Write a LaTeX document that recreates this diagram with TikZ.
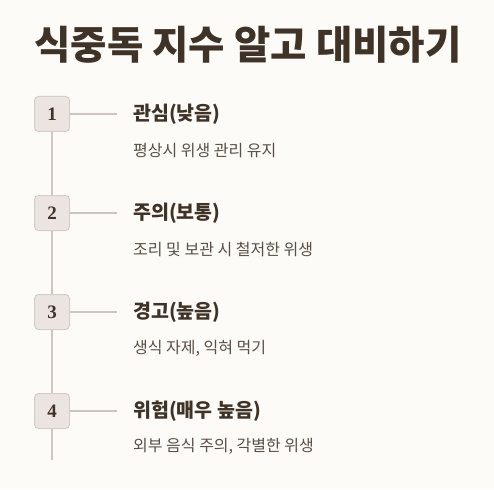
\documentclass[tikz,border=0pt]{standalone}
\usepackage{fontspec}
\setmainfont{Noto Sans CJK KR}
\newfontfamily\numfont{Liberation Serif}
\usepackage{xcolor}
\usepackage{tikz}
\usetikzlibrary{positioning}

\definecolor{pagebg}{HTML}{FDFBF8}
\definecolor{ink}{HTML}{3F3227}
\definecolor{soft}{HTML}{5A4E46}
\definecolor{boxfill}{HTML}{EBE4E1}
\definecolor{boxline}{HTML}{D6CCC8}
\definecolor{rail}{HTML}{CEC4C0}

\begin{document}
\begin{tikzpicture}[
  x=1pt, y=-1pt,
  levelbox/.style={draw=boxline, fill=boxfill, line width=1pt, rounded corners=4pt,
                   minimum size=35pt, inner sep=0pt, font=\numfont\bfseries\fontsize{19}{19}\selectfont, text=ink},
  heading/.style={anchor=west, inner sep=0pt, font=\bfseries\fontsize{19.5}{22}\selectfont, text=ink},
  note/.style={anchor=west, inner sep=0pt, font=\fontsize{16}{19}\selectfont, text=soft},
  link/.style={draw=rail, line width=1.6pt},
]
\fill[pagebg] (0,0) rectangle (494,489);
\useasboundingbox (0,0) rectangle (494,489);

\node[font=\bfseries\fontsize{39.5}{44}\selectfont, text=ink] (title) at (248,45) {식중독 지수 알고 대비하기};

\node[levelbox] (b1) at (52,114) {1};
\node[levelbox] (b2) at (52,213) {2};
\node[levelbox] (b3) at (52,312) {3};
\node[levelbox] (b4) at (52,411) {4};
\coordinate (tail) at (52,460);

\node[heading] (t1) at (133,114) {관심(낮음)};
\node[heading] (t2) at (133,213) {주의(보통)};
\node[heading] (t3) at (133,312) {경고(높음)};
\node[heading] (t4) at (133,411) {위험(매우 높음)};

\node[note] (d1) at (133,151) {평상시 위생 관리 유지};
\node[note] (d2) at (133,249) {조리 및 보관 시 철저한 위생};
\node[note] (d3) at (133,348) {생식 자제, 익혀 먹기};
\node[note] (d4) at (133,446) {외부 음식 주의, 각별한 위생};

% rail
\draw[link] (b1) -- (b2);
\draw[link] (b2) -- (b3);
\draw[link] (b3) -- (b4);
\draw[link] (b4) -- (tail);

% ticks to headings
\draw[link, shorten >=16pt] (b1.east) -- (b1.east -| t1.west);
\draw[link, shorten >=16pt] (b2.east) -- (b2.east -| t2.west);
\draw[link, shorten >=16pt] (b3.east) -- (b3.east -| t3.west);
\draw[link, shorten >=16pt] (b4.east) -- (b4.east -| t4.west);
\end{tikzpicture}
\end{document}
